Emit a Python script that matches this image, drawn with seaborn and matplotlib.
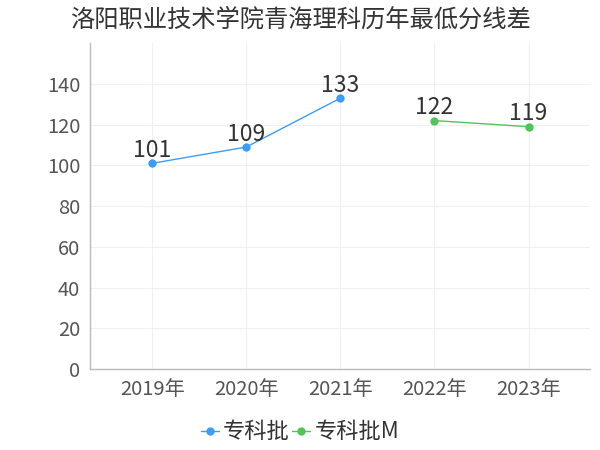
import matplotlib
matplotlib.use("Agg")
import matplotlib.pyplot as plt
import seaborn as sns
import pandas as pd
from matplotlib.lines import Line2D

title = "洛阳职业技术学院青海理科历年最低分线差"
categories = ["2019年", "2020年", "2021年", "2022年", "2023年"]
series1_name = "专科批"
series1_years = ["2019年", "2020年", "2021年"]
series1_values = [101, 109, 133]
series2_name = "专科批M"
series2_years = ["2022年", "2023年"]
series2_values = [122, 119]
y_ticks = [0, 20, 40, 60, 80, 100, 120, 140]

sns.set_theme(style="white")
plt.rcParams['font.family'] = ['Noto Sans CJK SC', 'DejaVu Sans']

colors = {series1_name: "#3d9df5", series2_name: "#52c45a"}

df = pd.DataFrame({
    "year": series1_years + series2_years,
    "value": series1_values + series2_values,
    "series": [series1_name] * len(series1_values) + [series2_name] * len(series2_values),
})
df["x"] = df["year"].map({c: i for i, c in enumerate(categories)})

fig = plt.figure(figsize=(6, 4.5), dpi=100)
ax = fig.add_axes([0.15, 0.18, 0.833, 0.724])

sns.lineplot(data=df, x="x", y="value", hue="series", palette=colors,
             marker="o", markersize=6, markeredgewidth=0, linewidth=1,
             ax=ax, legend=False)

for _, r in df.iterrows():
    ax.annotate(str(r["value"]), (r["x"], r["value"]), xytext=(0, 1),
                textcoords="offset points", ha="center", va="bottom",
                fontsize=16.5, color="#333333")

ax.set_xlim(-0.66, 4.65)
ax.set_ylim(0, 160)
ax.set_xticks(range(len(categories)))
ax.set_xticklabels(categories, fontsize=14.5, color="#555555")
ax.set_yticks(y_ticks)
ax.set_yticklabels([str(v) for v in y_ticks], fontsize=14.5, color="#555555")
ax.set_xlabel("")
ax.set_ylabel("")
ax.grid(True, color="#f0f0f0", linewidth=0.8)
for s in ["top", "right"]:
    ax.spines[s].set_visible(False)
for s in ["left", "bottom"]:
    ax.spines[s].set_color("#bbbbbb")
    ax.spines[s].set_linewidth(1)
ax.tick_params(axis="both", length=4, color="#cccccc", pad=3)

fig.text(0.5, 0.957, title, ha="center", va="center", fontsize=17.5, color="#333333")

handles = [Line2D([0], [0], color=colors[n], marker="o", markersize=5, linewidth=1)
           for n in [series1_name, series2_name]]
fig.legend(handles, [series1_name, series2_name], loc="center", bbox_to_anchor=(0.5, 0.04),
           ncol=2, frameon=False, fontsize=16, handlelength=0.8, handletextpad=0.2,
           columnspacing=0.1, labelcolor="#333333")

fig.savefig("out.png", dpi=100)
